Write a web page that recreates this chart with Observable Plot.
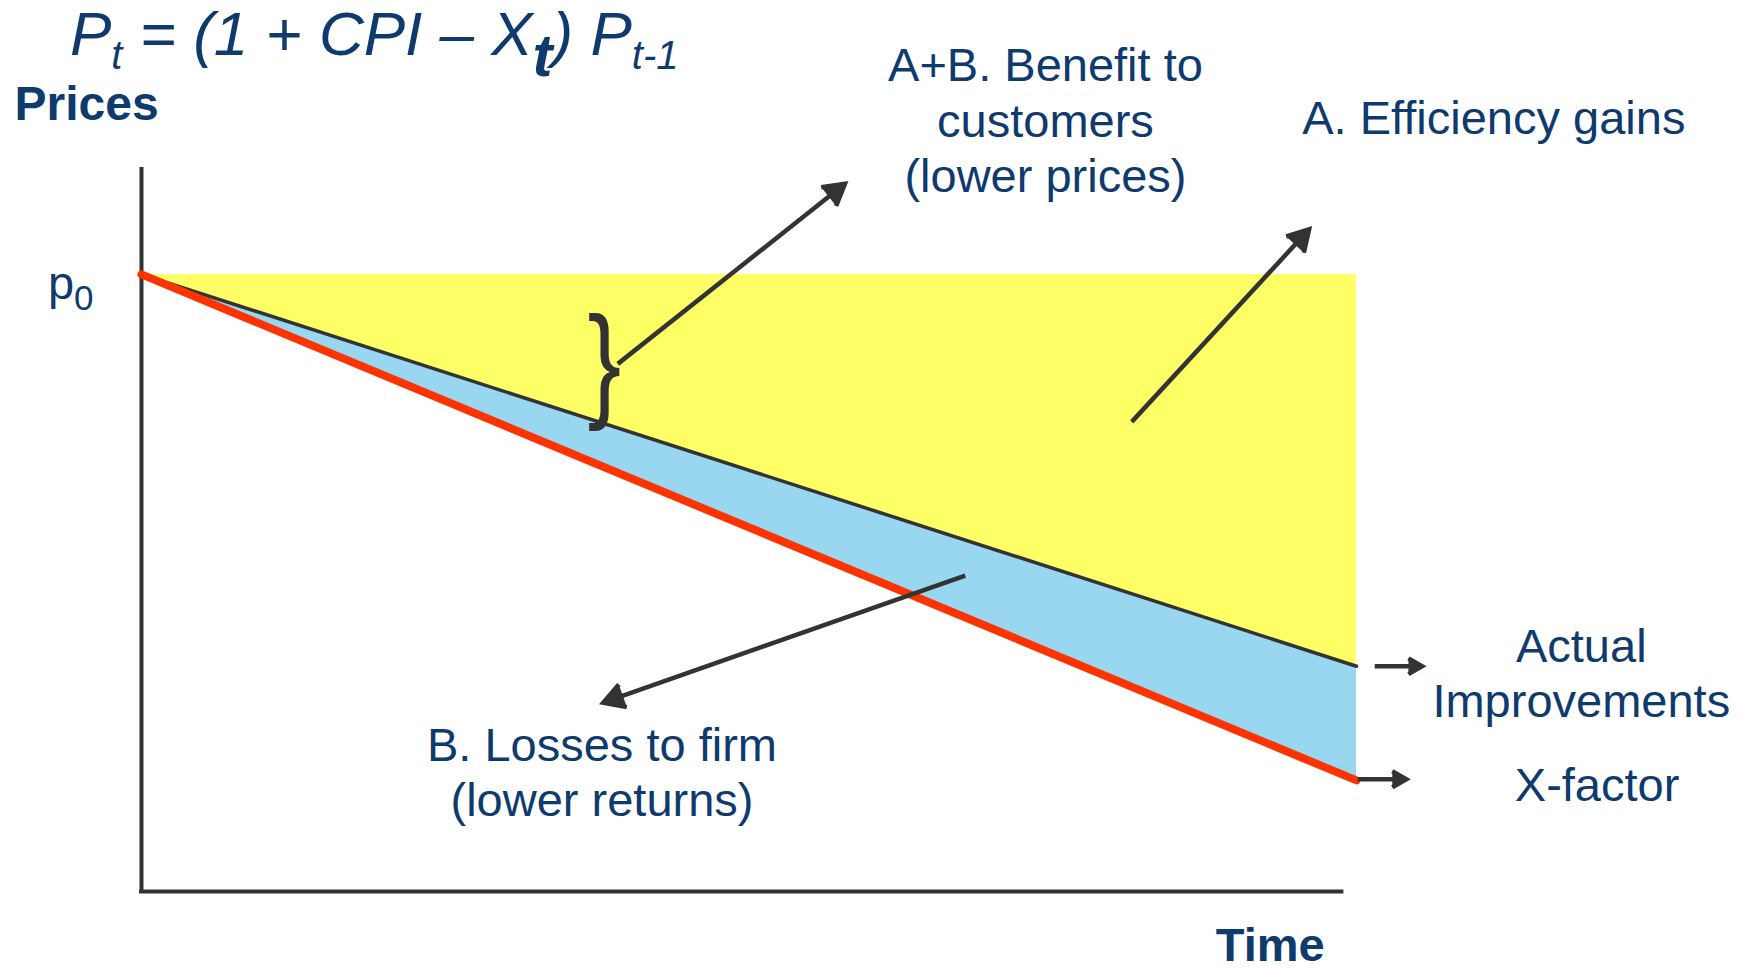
<!DOCTYPE html>
<html>
<head>
<meta charset="utf-8">
<script src="https://cdn.jsdelivr.net/npm/d3@7"></script>
<script src="https://cdn.jsdelivr.net/npm/@observablehq/plot@0.6"></script>
<style>
  html, body { margin: 0; padding: 0; background: #fff; }
  #chart { width: 1743px; }
  .formula { position: relative; height: 80px; font-family: "Liberation Sans", Arial, sans-serif; color: #0e3a6d; }
  .formula .eq { position: absolute; left: 70px; top: 3px; font-size: 62px; line-height: 62px; font-style: italic; white-space: pre; }
  .formula .sub { font-size: 40px; vertical-align: -14px; }
  .formula .subBig { font-size: 60px; font-weight: bold; vertical-align: -21px; }
</style>
</head>
<body>
<div id="chart">
  <div class="formula"><span class="eq">P<span class="sub">t</span> = (1 + CPI – X<span class="subBig">t</span>) P<span class="sub">t-1</span></span></div>
</div>
<script>
// Price-cap regulation: prices fall from p0 along the X-factor path,
// while actual efficiency improvements follow a shallower path.
const FONT = '"Liberation Sans", Arial, Helvetica, sans-serif';
const NAVY = "#0e3a6d";
const INK = "#333333";
const YELLOW = "#ffff66";
const BLUE = "#99d6f0";
const RED = "#ff3300";

// Price paths over the regulatory period (p0 = 100)
const time = [0, 10];
const basePrice = [100, 100];
const actualPrice = [100, 36.5];
const capPrice = [100, 18];

// Axis extents
const timeAxisEnd = 9.88;
const priceAxisTop = 117;

// Annotation arrows (time, price)
const arrowT1 = [3.92, 8.15, 6.78, 10.15, 10.01];
const arrowP1 = [85.5, 76.1, 51.2, 36.5, 18.2];
const arrowT2 = [5.79, 9.61, 3.80, 10.54, 10.41];
const arrowP2 = [114.7, 107.3, 30.6, 36.5, 18.2];

// Annotation labels
const labelText = [
  "A+B. Benefit to\ncustomers\n(lower prices)",
  "A. Efficiency gains",
  "Actual\nImprovements",
  "X-factor",
  "B. Losses to firm\n(lower returns)"
];
const labelT = [7.44, 11.13, 11.85, 11.98, 3.79];
const labelP = [113.3, 122.7, 28.2, 14.6, 12.2];

// Axis titles
const priceTitle = [{text: "Prices", t: -1.045, p: 125.1}];
const timeTitle = [{text: "Time", t: 9.29, p: -11.2}];

// Brace marking the gap between the two paths
const braceT = [3.81];
const braceP = [78.9];

const rows = time.map((t, i) => ({t, base: basePrice[i], actual: actualPrice[i], cap: capPrice[i]}));
const arrows = arrowT1.map((t, i) => ({t1: t, p1: arrowP1[i], t2: arrowT2[i], p2: arrowP2[i]}));
const labels = labelText.map((text, i) => ({text, t: labelT[i], p: labelP[i]}));
const brace = braceT.map((t, i) => ({t, p: braceP[i]}));

const chart = Plot.plot({
  width: 1743,
  height: 889,
  marginLeft: 141,
  marginRight: 387,
  marginTop: 89,
  marginBottom: 78,
  x: {domain: [0, 10], axis: null},
  y: {domain: [0, priceAxisTop], ticks: [100], tickFormat: () => "p₀", tickSize: 0, tickPadding: 48, label: null},
  style: {fontFamily: FONT, fontSize: "47px", color: NAVY, background: "white", overflow: "visible"},
  marks: [
    Plot.areaY(rows, {x: "t", y1: "actual", y2: "base", fill: YELLOW}),
    Plot.areaY(rows, {x: "t", y1: "cap", y2: "actual", fill: BLUE}),
    Plot.ruleX([0], {y1: 0, y2: priceAxisTop, stroke: INK, strokeWidth: 4, strokeLinecap: "square"}),
    Plot.ruleY([0], {x1: 0, x2: timeAxisEnd, stroke: INK, strokeWidth: 4, strokeLinecap: "square"}),
    Plot.line(rows, {x: "t", y: "actual", stroke: INK, strokeWidth: 3.5}),
    Plot.line(rows, {x: "t", y: "cap", stroke: RED, strokeWidth: 8}),
    Plot.arrow(arrows, {
      x1: "t1", y1: "p1", x2: "t2", y2: "p2",
      stroke: INK, fill: INK, strokeWidth: 4.5, headLength: 8, headAngle: 60,
      strokeLinecap: "butt", strokeLinejoin: "miter", strokeMiterlimit: 10
    }),
    Plot.text(brace, {x: "t", y: "p", text: () => "}", fontSize: 126, fill: INK, lineAnchor: "bottom", textAnchor: "middle"}),
    Plot.text(labels, {x: "t", y: "p", text: "text", fontSize: 47, fill: NAVY, lineAnchor: "bottom", lineHeight: 1.18, textAnchor: "middle"}),
    Plot.text(priceTitle, {x: "t", y: "p", text: "text", fontSize: 48, fontWeight: "bold", fill: NAVY, lineAnchor: "bottom", textAnchor: "start"}),
    Plot.text(timeTitle, {x: "t", y: "p", text: "text", fontSize: 47, fontWeight: "bold", fill: NAVY, lineAnchor: "bottom", textAnchor: "middle"})
  ]
});

d3.select(chart).selectAll("text").each(function () {
  // Write p0 with a proper subscript
  if (this.textContent === "p₀") {
    const t = d3.select(this);
    t.text("p").attr("dy", "0.21em").attr("font-size", "47px").attr("fill", NAVY);
    t.append("tspan").attr("font-size", "35px").attr("dy", "11").text("0");
  }
  // Slim the brace horizontally about its own anchor
  if (this.textContent === "}") {
    const tr = this.getAttribute("transform");
    if (tr && tr.includes("translate")) {
      this.setAttribute("transform", tr + " scale(0.8,1)");
    }
  }
});

document.getElementById("chart").appendChild(chart);
</script>
</body>
</html>
